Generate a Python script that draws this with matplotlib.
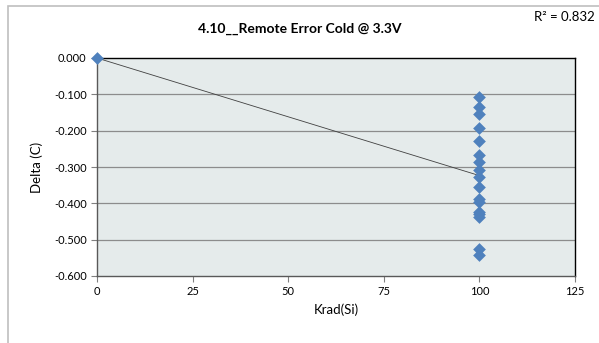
import matplotlib
matplotlib.use('Agg')
import matplotlib.pyplot as plt
import numpy as np
from matplotlib.patches import Rectangle

# Data (some points overlap at 100 krad)
krad = [0] + [100] * 17
delta = [0.000,
         -0.107, -0.134, -0.155, -0.192, -0.229, -0.267, -0.286, -0.309,
         -0.327, -0.355, -0.387, -0.395, -0.424, -0.430, -0.437, -0.525,
         -0.543]
x_ticks = [0, 25, 50, 75, 100, 125]
y_ticks = [0.0, -0.1, -0.2, -0.3, -0.4, -0.5, -0.6]

plt.rcParams['font.family'] = ['Lato', 'DejaVu Sans']

fig = plt.figure(figsize=(5.99, 3.43), dpi=100)
ax = fig.add_axes([97 / 599, 1 - 276 / 343, 478 / 599, 218 / 343])
ax.set_facecolor('#E5EBEB')

# outer chart border (runs off the right and bottom edges)
fig.patches.append(Rectangle((8 / 599, -5 / 343), 600 / 599, 342 / 343,
                             transform=fig.transFigure, fill=False,
                             edgecolor='#BFBFBF', linewidth=1.2))

# grid lines
for yv in y_ticks[1:-1]:
    ax.axhline(yv, color='#8C8C8C', linewidth=0.9, zorder=1)

# trendline (linear fit)
coef = np.polyfit(krad, delta, 1)
xs = np.array([min(krad), max(krad)])
ax.plot(xs, np.polyval(coef, xs), color='#404040', linewidth=0.6, zorder=2)

ax.scatter(krad, delta, marker='D', s=42, color='#4F81BD', zorder=3,
           clip_on=False, linewidths=0)

ax.set_xlim(0, 125)
ax.set_ylim(-0.6, 0)
ax.set_xticks(x_ticks)
ax.set_yticks(y_ticks)
ax.set_yticklabels(['%.3f' % v for v in y_ticks])
ax.tick_params(axis='both', labelsize=8, length=4, width=0.8,
               color='#808080', direction='out')
ax.tick_params(axis='x', pad=3)

for side in ['left', 'bottom', 'top', 'right']:
    ax.spines[side].set_color('#000000')
    ax.spines[side].set_linewidth(1.0)
ax.spines['left'].set_color('#595959')
ax.spines['bottom'].set_color('#595959')

ax.set_xlabel('Krad(Si)', fontsize=9.5, labelpad=5)
ax.set_ylabel('Delta (C)', fontsize=9.5, labelpad=8)

fig.text(0.5, 1 - 29 / 343, '4.10__Remote Error Cold @ 3.3V',
         ha='center', va='center', fontsize=10, fontweight='bold')
fig.text(1 - 4 / 599, 1 - 17 / 343, 'R² = 0.832', ha='right', va='center',
         fontsize=9.5)

fig.savefig('out.png', dpi=100)
